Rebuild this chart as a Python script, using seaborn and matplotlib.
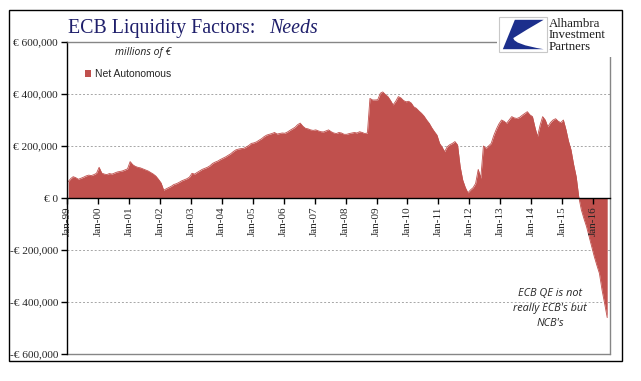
import numpy as np
import pandas as pd
import matplotlib
matplotlib.use("Agg")
import matplotlib.pyplot as plt
from matplotlib.patches import Rectangle, Patch, PathPatch
from matplotlib.path import Path
import seaborn as sns

# ---- data (thousands of EUR, monthly) ----
v1999 = [63, 75, 82, 78, 72, 76, 80, 85, 88, 86, 90, 95]
v2000 = [118, 96, 92, 90, 94, 92, 96, 100, 102, 104, 108, 112]
v2001 = [140, 128, 122, 118, 116, 112, 108, 104, 98, 92, 84, 72]
v2002 = [58, 30, 35, 40, 45, 52, 55, 60, 66, 70, 74, 80]
v2003 = [95, 92, 98, 104, 110, 114, 118, 124, 133, 138, 142, 148]
v2004 = [153, 158, 164, 170, 178, 185, 188, 190, 191, 196, 202, 210]
v2005 = [212, 216, 222, 228, 236, 242, 245, 248, 252, 246, 248, 250]
v2006 = [249, 254, 260, 266, 272, 282, 288, 276, 268, 266, 262, 260]
v2007 = [262, 258, 255, 254, 258, 262, 255, 250, 248, 252, 250, 245]
v2008 = [245, 248, 250, 252, 250, 255, 252, 248, 250, 383, 377, 377]
v2009 = [378, 403, 408, 398, 390, 375, 358, 372, 390, 385, 375, 370]
v2010 = [372, 365, 351, 345, 335, 326, 315, 300, 287, 270, 255, 242]
v2011 = [210, 195, 178, 197, 205, 210, 217, 204, 120, 69, 40, 20]
v2012 = [31, 40, 56, 110, 76, 200, 191, 200, 210, 240, 265, 285]
v2013 = [300, 295, 287, 300, 313, 308, 306, 310, 318, 325, 332, 320]
v2014 = [313, 270, 236, 280, 313, 300, 274, 290, 300, 305, 295, 290]
v2015 = [300, 262, 220, 185, 130, 82, 5, -46, -80, -110, -150, -187]
v2016 = [-226, -260, -290, -354, -405, -460]

values_k = (v1999 + v2000 + v2001 + v2002 + v2003 + v2004 + v2005 + v2006 +
            v2007 + v2008 + v2009 + v2010 + v2011 + v2012 + v2013 + v2014 +
            v2015 + v2016)
series_name = "Net Autonomous"
y_ticks = [-600000, -400000, -200000, 0, 200000, 400000, 600000]
y_tick_labels = ["-€ 600,000", "-€ 400,000", "-€ 200,000", "€ 0",
                 "€ 200,000", "€ 400,000", "€ 600,000"]
x_tick_years = list(range(1999, 2017))

dates = pd.date_range("1999-01-01", periods=len(values_k), freq="MS") + pd.Timedelta(days=14)
df = pd.DataFrame({"date": dates, "value": np.array(values_k) * 1000.0})

# ---- figure ----
sns.set_style("white")
W, H = 641, 381
fig = plt.figure(figsize=(W / 100, H / 100), dpi=100)

def fx(px):
    return px / W

def fy(py):
    return 1 - py / H

ax = fig.add_axes([fx(67), fy(354), fx(610) - fx(67), fy(42) - fy(354)])
ax.set_axisbelow(False)
red = "#c0504d"

ax.fill_between(df["date"], 0, df["value"], color=red, linewidth=0, zorder=2)
sns.lineplot(data=df, x="date", y="value", ax=ax, color=red, linewidth=0.6, zorder=2.1)

ax.set_ylim(-600000, 600000)
ax.set_xlim(pd.Timestamp("1999-01-01"), pd.Timestamp("2016-07-18"))
ax.set_xlabel("")
ax.set_ylabel("")

for yv in [-400000, -200000, 200000, 400000]:
    ax.axhline(yv, color="#a6a6a6", linestyle=(0, (2, 2)), linewidth=0.7, zorder=1)
ax.axhline(-600000, color="#868686", linewidth=1.0, zorder=1, clip_on=False)

# spines
ax.spines["bottom"].set_position(("data", 0))
ax.spines["bottom"].set_color("black")
ax.spines["bottom"].set_linewidth(1.0)
ax.spines["bottom"].set_zorder(4)
ax.spines["left"].set_color("black")
ax.spines["left"].set_linewidth(1.0)
ax.spines["top"].set_color("#868686")
ax.spines["right"].set_color("#868686")
ax.spines["top"].set_linewidth(1.0)
ax.spines["right"].set_linewidth(1.0)

ax.set_yticks(y_ticks)
ax.set_yticklabels(y_tick_labels, fontfamily="Liberation Serif", fontsize=8.2)
ax.set_xticks([pd.Timestamp(f"{y}-01-01") for y in x_tick_years])
ax.set_xticklabels([pd.Timestamp(f"{y}-01-01").strftime("%b-%y") for y in x_tick_years],
                   rotation=90, fontfamily="Liberation Serif", fontsize=8)
ax.tick_params(axis="y", direction="out", length=4, width=1, color="black", pad=2.5, left=True)
ax.tick_params(axis="x", direction="out", length=4, width=1, color="black", pad=2, bottom=True)
ax.grid(False)
ax.xaxis.set_zorder(5)

# legend and notes
leg = ax.legend(handles=[Patch(facecolor=red, edgecolor="none", label=series_name)],
                loc="upper left", bbox_to_anchor=(fx(80), fy(64)),
                bbox_transform=fig.transFigure, frameon=False, handlelength=0.55,
                handleheight=0.55, handletextpad=0.4, borderpad=0,
                prop={"family": "Liberation Sans", "size": 7.5})

fig.text(fx(115), fy(52), "millions of €", fontsize=7.5, style="italic",
         family="Open Sans", va="center", ha="left", color="#222222")

fig.text(fx(550), fy(293), "ECB QE is not", fontsize=7.8, style="italic",
         family="Open Sans", ha="center", va="center")
fig.text(fx(550), fy(308), "really ECB's but", fontsize=7.8, style="italic",
         family="Open Sans", ha="center", va="center")
fig.text(fx(550), fy(323), "NCB's", fontsize=7.8, style="italic",
         family="Open Sans", ha="center", va="center")

# title
navy = "#1f1f6b"
t1 = fig.text(fx(68), fy(33), "ECB Liquidity Factors:  ", fontsize=14.3,
              family="Liberation Serif", color=navy, ha="left", va="baseline")
fig.canvas.draw()
bb = t1.get_window_extent(renderer=fig.canvas.get_renderer())
x_next = fig.transFigure.inverted().transform((bb.x1 + 4, bb.y0))[0]
fig.text(x_next, fy(33), "Needs", fontsize=14.3, family="Liberation Serif",
         style="italic", color=navy, ha="left", va="baseline")

# logo area (covers the top-right corner of the plot frame)
fig.patches.append(Rectangle((fx(497), fy(57)), fx(616) - fx(497), fy(12) - fy(57),
                             transform=fig.transFigure, facecolor="white",
                             edgecolor="none", zorder=5))
lx0, lx1, ly0, ly1 = 499, 547, 52, 17
fig.patches.append(Rectangle((fx(lx0), fy(ly0)), fx(lx1) - fx(lx0), fy(ly1) - fy(ly0),
                             transform=fig.transFigure, facecolor="white",
                             edgecolor="#c8c8c8", linewidth=0.8, zorder=6))

def lp(u, v):
    return (fx(lx0 + u * (lx1 - lx0)), fy(ly0 - v * (ly0 - ly1)))

verts = [lp(0.33, 0.92), lp(0.93, 0.92), lp(0.55, 0.62),
         lp(0.30, 0.40), lp(0.30, 0.22), lp(0.93, 0.08),
         lp(0.08, 0.08), lp(0.33, 0.92)]
codes = [Path.MOVETO, Path.LINETO, Path.CURVE3, Path.LINETO,
         Path.CURVE3, Path.LINETO, Path.LINETO, Path.CLOSEPOLY]
fig.patches.append(PathPatch(Path(verts, codes), transform=fig.transFigure,
                             facecolor="#1c2f8c", edgecolor="none", zorder=7))
for i, word in enumerate(["Alhambra", "Investment", "Partners"]):
    fig.text(fx(549), fy(24 + i * 11.5), word, fontsize=9.3, family="Liberation Serif",
             color="#1a1a1a", ha="left", va="center", zorder=8)

# outer frame
fig.patches.append(Rectangle((fx(9), fy(361)), fx(622) - fx(9), fy(10) - fy(361),
                             transform=fig.transFigure, facecolor="none",
                             edgecolor="black", linewidth=1.0, zorder=9))

fig.savefig("out.png", dpi=100, facecolor="white")
